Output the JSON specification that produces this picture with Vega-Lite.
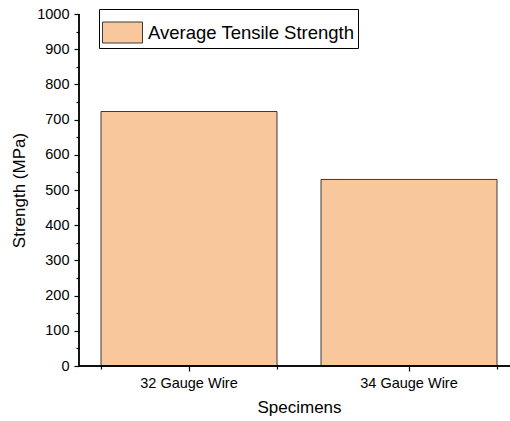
{
  "$schema": "https://vega.github.io/schema/vega-lite/v6.json",
  "autosize": {"type": "none"},
  "padding": {"left": 79, "top": 14, "right": 0, "bottom": 55},
  "width": 431,
  "height": 352,
  "background": "white",
  "config": {
    "view": {"stroke": null},
    "font": "Liberation Sans",
    "axis": {
      "grid": false,
      "domain": false,
      "tickColor": "#000000",
      "tickWidth": 1.2,
      "labelColor": "black",
      "titleColor": "black",
      "labelFont": "Liberation Sans",
      "titleFont": "Liberation Sans",
      "titleFontWeight": "normal",
      "labelFontSize": 14.5,
      "titleFontSize": 17,
      "labelOverlap": false
    }
  },
  "data": {
    "values": [
      {"specimen": "32 Gauge Wire", "strength": 723, "series": "Average Tensile Strength"},
      {"specimen": "34 Gauge Wire", "strength": 530, "series": "Average Tensile Strength"}
    ]
  },
  "layer": [
    {
      "layer": [
        {
          "mark": {"type": "bar", "stroke": "#3a3a3a", "strokeWidth": 1},
          "encoding": {
            "x": {
              "field": "specimen",
              "type": "nominal",
              "sort": null,
              "scale": {"range": [0, 440], "paddingInner": 0.2, "paddingOuter": 0.1},
              "axis": {
                "orient": "bottom",
                "title": "Specimens",
                "labelAngle": 0,
                "tickSize": 5,
                "labelPadding": 5,
                "titlePadding": 10
              }
            },
            "y": {
              "field": "strength",
              "type": "quantitative",
              "scale": {"domain": [0, 1000], "nice": false},
              "axis": {
                "orient": "left",
                "title": "Strength (MPa)",
                "format": "d",
                "values": [0, 50, 100, 150, 200, 250, 300, 350, 400, 450, 500, 550, 600, 650, 700, 750, 800, 850, 900, 950, 1000],
                "labelExpr": "datum.value % 100 === 0 ? datum.label : ''",
                "tickSize": {"condition": {"test": "datum.value % 100 === 0", "value": 5}, "value": 3},
                "labelPadding": 5,
                "titlePadding": 8
              }
            },
            "color": {
              "field": "series",
              "type": "nominal",
              "scale": {"range": ["#F8C79B"]},
              "legend": {
                "title": null,
                "orient": "none",
                "legendX": 20,
                "legendY": -5,
                "padding": 3,
                "strokeColor": "black",
                "fillColor": "white",
                "symbolType": "M-1,-0.525H1V0.525H-1Z",
                "symbolSize": 1600,
                "symbolStrokeColor": "#3a3a3a",
                "symbolStrokeWidth": 1,
                "symbolOpacity": 1,
                "labelFont": "Liberation Sans",
                "labelFontSize": 18.5,
                "labelColor": "black",
                "labelOffset": 5,
                "labelLimit": 400
              }
            }
          }
        },
        {
          "mark": {"type": "point", "opacity": 0},
          "encoding": {
            "x": {
              "field": "specimen",
              "type": "nominal",
              "sort": null,
              "axis": {
                "orient": "bottom",
                "title": null,
                "labels": false,
                "domain": false,
                "tickBand": "extent",
                "tickSize": 3
              }
            }
          }
        }
      ],
      "resolve": {"axis": {"x": "independent"}}
    },
    {
      "layer": [
        {
          "mark": {"type": "rule", "color": "#000000", "strokeWidth": 1.4},
          "encoding": {
            "x": {"datum": 0, "type": "quantitative", "scale": {"domain": [0, 1], "nice": false, "zero": false}, "axis": null},
            "y": {"datum": 0, "type": "quantitative", "scale": {"domain": [0, 1000], "nice": false}, "axis": null},
            "y2": {"datum": 1000}
          }
        },
        {
          "mark": {"type": "rule", "color": "#000000", "strokeWidth": 1.6},
          "encoding": {
            "y": {"datum": 0, "type": "quantitative", "axis": null}
          }
        }
      ]
    }
  ],
  "resolve": {"scale": {"x": "independent", "y": "independent"}}
}
